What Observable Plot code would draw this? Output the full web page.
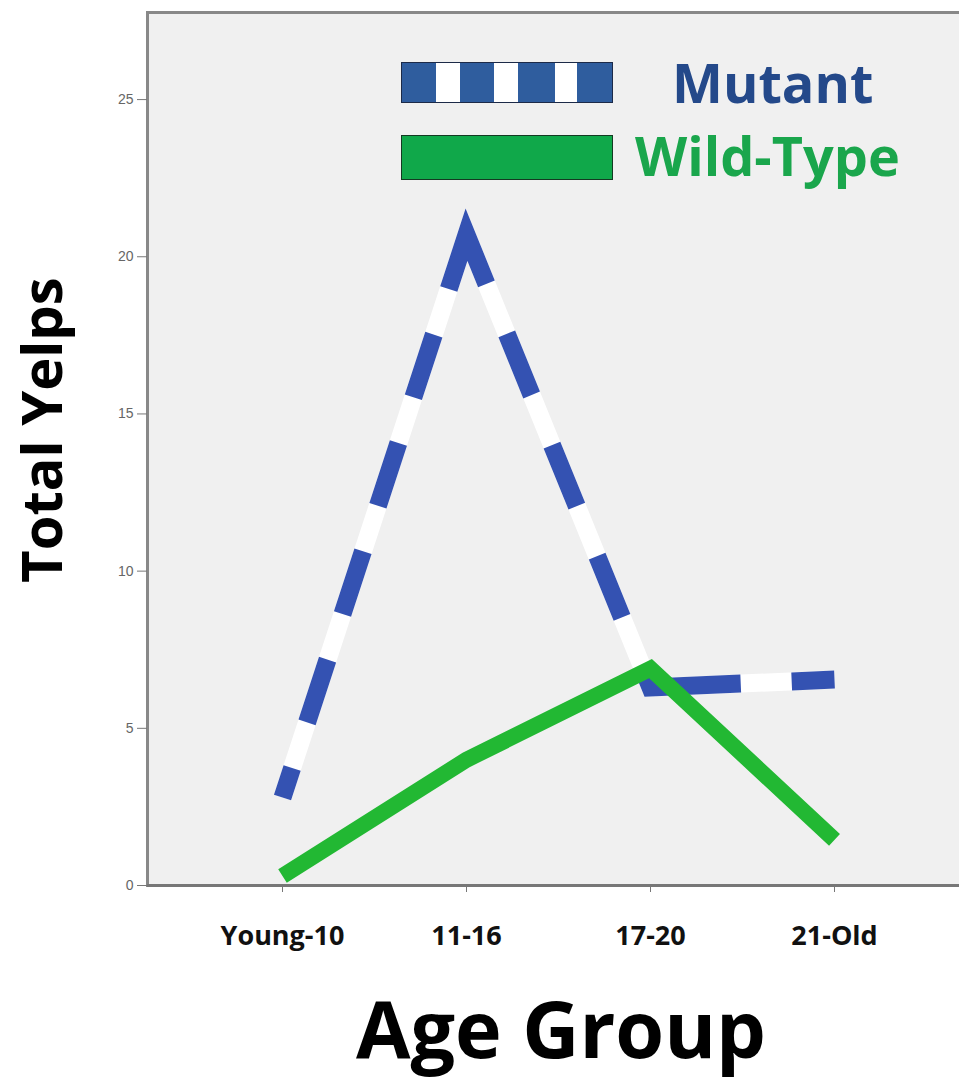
<!DOCTYPE html>
<html><head><meta charset="utf-8">
<script src="https://cdn.jsdelivr.net/npm/d3@7"></script>
<script src="https://cdn.jsdelivr.net/npm/@observablehq/plot@0.6"></script>
<style>
body{margin:0;background:#fff;}
#wrap{position:relative;width:959px;height:1082px;overflow:hidden;font-family:"Open Sans",sans-serif;}
#chart svg{display:block;}
#chart g[aria-label="x-axis tick label"] text{font-family:"Open Sans",sans-serif;font-weight:700;fill:#111;}
#chart g[aria-label="y-axis tick label"] text{font-family:"Liberation Sans",Arial,sans-serif;fill:#666;}
.abs{position:absolute;white-space:nowrap;line-height:1;font-weight:700;}
#xtitle{left:0;width:1122px;text-align:center;font-size:79px;top:988px;color:#000;}
#legMutSw{left:401px;top:62px;width:212px;height:41px;box-sizing:border-box;border:1.5px solid #1c2a48;
 background:linear-gradient(to right,#2f5d9e 0 34px,#fff 34px 58px,#2f5d9e 58px 92px,#fff 92px 116px,#2f5d9e 116px 153px,#fff 153px 175px,#2f5d9e 175px 212px);}
#legWildSw{left:401px;top:135px;width:212px;height:45px;box-sizing:border-box;border:1.5px solid #143a22;background:#10a84a;}
#legMutTx{left:672px;top:55px;font-size:54px;color:#24498a;}
#legWildTx{left:635px;top:128px;font-size:54px;color:#1aa64c;}
</style></head><body>
<div id="wrap"><div id="chart"></div></div>
<script>
const categories = ["Young-10", "11-16", "17-20", "21-Old"];
const mutantYelps = [2.8, 20.7, 6.3, 6.55];
const wildTypeYelps = [0.3, 4.0, 6.9, 1.45];
const yTicks = [0, 5, 10, 15, 20, 25];
const seriesNames = ["Mutant", "Wild-Type"];
const xTitle = "Age Group";
const yTitle = "Total Yelps";

const mutant = categories.map((c, i) => ({group: c, yelps: mutantYelps[i]}));
const wild = categories.map((c, i) => ({group: c, yelps: wildTypeYelps[i]}));

const lineStyle = {x: "group", y: "yelps", strokeLinejoin: "miter", strokeMiterlimit: 10, strokeLinecap: "butt"};

const plot = Plot.plot({
  width: 959, height: 960,
  marginLeft: 147, marginRight: 0, marginTop: 12, marginBottom: 75,
  style: {background: "transparent", overflow: "visible"},
  x: {type: "point", domain: categories, range: [281, 835], padding: 0, label: null},
  y: {domain: [0, 27.77], label: null},
  marks: [
    Plot.frame({fill: "#f0f0f0", stroke: null}),
    Plot.frame({anchor: "left", stroke: "#888", strokeWidth: 3}),
    Plot.frame({anchor: "top", stroke: "#888", strokeWidth: 3}),
    Plot.ruleY([0], {stroke: "#777", strokeWidth: 3}),
    Plot.axisY(yTicks, {tickSize: 10, tickPadding: 4, fontSize: 14, stroke: "#777", fill: "#666", label: null}),
    Plot.axisX({tickSize: 7, tickPadding: 33, fontSize: 27, fontWeight: "bold", fill: "#111", stroke: "#777", label: null}),
    Plot.text([yTitle], {frameAnchor: "left", rotate: -90, dx: -86, dy: -19, lineAnchor: "bottom", textAnchor: "middle",
      fontSize: 56, fontWeight: "bold", fontFamily: "Open Sans", fill: "#000"}),
    Plot.line(mutant, {...lineStyle, stroke: "#ffffff", strokeWidth: 18}),
    Plot.line(mutant, {...lineStyle, stroke: "#3452b2", strokeWidth: 18,
      strokeDasharray: "31,48,66,48,66,48,66,48,66,48,110,54,66,54,66,54,66,54,112,51,80"}),
    Plot.line(wild, {...lineStyle, stroke: "#22b833", strokeWidth: 16})
  ]
});
document.getElementById("chart").appendChild(plot);

const wrap = document.getElementById("wrap");
function addDiv(id, text) {
  const d = document.createElement("div");
  d.className = "abs"; d.id = id; d.textContent = text || "";
  wrap.appendChild(d);
}
addDiv("xtitle", xTitle);
addDiv("legMutSw");
addDiv("legWildSw");
addDiv("legMutTx", seriesNames[0]);
addDiv("legWildTx", seriesNames[1]);
</script>
</body></html>
